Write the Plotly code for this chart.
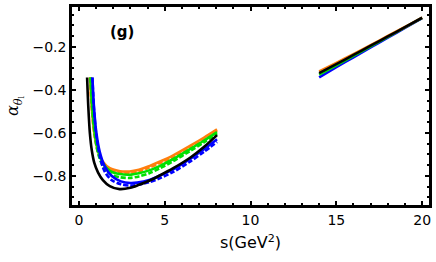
import plotly.graph_objects as go

# ---- low-s region data ----
s_black_lo = [0.48, 0.55, 0.64, 0.75, 0.9, 1.12, 1.4, 1.8, 2.37, 3.0, 3.5, 4.1, 4.68, 5.5, 6.5, 7.3, 8.05]
y_black_lo = [-0.343, -0.48, -0.60, -0.68, -0.74, -0.785, -0.82, -0.848, -0.862, -0.856, -0.842, -0.823, -0.80, -0.765, -0.715, -0.665, -0.611]

s_orange_lo = [0.65, 0.75, 0.9, 1.1, 1.4, 1.8, 2.4, 2.95, 3.5, 4.1, 4.7, 5.5, 6.5, 7.3, 8.05]
y_orange_lo = [-0.343, -0.48, -0.60, -0.68, -0.735, -0.765, -0.779, -0.780, -0.772, -0.755, -0.735, -0.705, -0.66, -0.622, -0.584]
y_orange_d_lo = [-0.343, -0.485, -0.605, -0.686, -0.742, -0.772, -0.786, -0.787, -0.779, -0.762, -0.742, -0.712, -0.667, -0.629, -0.59]

s_green_lo = [0.68, 0.78, 0.93, 1.13, 1.43, 1.83, 2.4, 2.95, 3.5, 4.1, 4.7, 5.5, 6.5, 7.3, 8.05]
y_green_lo = [-0.343, -0.48, -0.60, -0.685, -0.745, -0.778, -0.792, -0.795, -0.788, -0.775, -0.755, -0.722, -0.675, -0.636, -0.597]
y_green_d_lo = [-0.343, -0.485, -0.61, -0.70, -0.76, -0.793, -0.807, -0.81, -0.803, -0.788, -0.766, -0.732, -0.684, -0.644, -0.605]

s_blue_lo = [0.79, 0.88, 1.02, 1.22, 1.5, 1.9, 2.45, 3.0, 3.4, 4.1, 4.7, 5.5, 6.5, 7.3, 8.05]
y_blue_lo = [-0.343, -0.48, -0.60, -0.69, -0.755, -0.80, -0.826, -0.834, -0.832, -0.82, -0.80, -0.77, -0.72, -0.675, -0.63]
y_blue_d_lo = [-0.343, -0.49, -0.615, -0.71, -0.78, -0.82, -0.84, -0.846, -0.843, -0.83, -0.812, -0.782, -0.733, -0.688, -0.643]

# ---- high-s region data ----
s_hi = [14.0, 15.0, 16.0, 17.0, 18.0, 19.0, 20.0]
y_orange_hi = [-0.315, -0.275, -0.234, -0.192, -0.150, -0.108, -0.064]
y_black_hi = [-0.323, -0.281, -0.238, -0.195, -0.152, -0.109, -0.065]
y_green_hi = [-0.330, -0.286, -0.242, -0.198, -0.154, -0.110, -0.066]
y_blue_hi = [-0.342, -0.295, -0.249, -0.203, -0.158, -0.112, -0.067]

x_ticks = [0, 5, 10, 15, 20]
y_ticks = [-0.8, -0.6, -0.4, -0.2]
y_tick_text = ["−0.8", "−0.6", "−0.4", "−0.2"]

ORANGE = "#ff7f0e"
GREEN = "#00e000"
BLUE = "#0000ff"
BLACK = "#000000"

fig = go.Figure()

def add(x, y, color, dash="solid", width=2.6):
    fig.add_trace(go.Scatter(x=x, y=y, mode="lines",
                             line=dict(color=color, width=width, dash=dash, shape="spline", smoothing=0.8),
                             showlegend=False, hoverinfo="skip"))

# low region
add(s_orange_lo, y_orange_lo, ORANGE)
add(s_orange_lo, y_orange_d_lo, ORANGE, dash="5px,2px")
add(s_green_lo, y_green_lo, GREEN)
add(s_green_lo, y_green_d_lo, GREEN, dash="5px,2px")
add(s_blue_lo, y_blue_lo, BLUE)
add(s_blue_lo, y_blue_d_lo, BLUE, dash="5px,2px")
add(s_black_lo, y_black_lo, BLACK)

# high region
add(s_hi, y_blue_hi, BLUE)
add(s_hi, y_green_hi, GREEN)
add(s_hi, y_orange_hi, ORANGE)
add(s_hi, y_black_hi, BLACK)

fig.add_annotation(x=2.49, y=-0.131, xref="x", yref="y", text="<b>(g)</b>",
                   showarrow=False, font=dict(size=15, color="black", family="DejaVu Sans"))

axis_common = dict(showgrid=False, zeroline=False, showline=True, linecolor="black", linewidth=2.5,
                   mirror="ticks", ticks="inside", ticklen=4, tickwidth=1.8, tickcolor="black",
                   tickfont=dict(size=14, color="black", family="DejaVu Sans"))

fig.update_xaxes(range=[-0.4, 20.4], tickvals=x_ticks, ticktext=[str(v) for v in x_ticks],
                 minor=dict(dtick=1, tick0=0, ticks="inside", ticklen=2.5, tickwidth=1.8, tickcolor="black"),
                 title=dict(text="s(GeV<sup>2</sup>)", font=dict(size=16, color="black", family="DejaVu Sans"), standoff=11),
                 **axis_common)
fig.update_yaxes(range=[-0.936, -0.015], tickvals=y_ticks, ticktext=y_tick_text,
                 minor=dict(dtick=0.05, tick0=0, ticks="inside", ticklen=2.5, tickwidth=1.8, tickcolor="black"),
                 title=dict(text="<i>α</i><sub><i>θ</i><sub>l</sub></sub>", font=dict(size=16, color="black", family="DejaVu Serif"), standoff=10),
                 **axis_common)

fig.update_layout(width=436, height=262, margin=dict(l=72, r=4, t=5, b=57),
                  plot_bgcolor="white", paper_bgcolor="white")

fig.write_html("out.html", config={"displayModeBar": False},
               post_script="document.body.style.margin='0px';")
